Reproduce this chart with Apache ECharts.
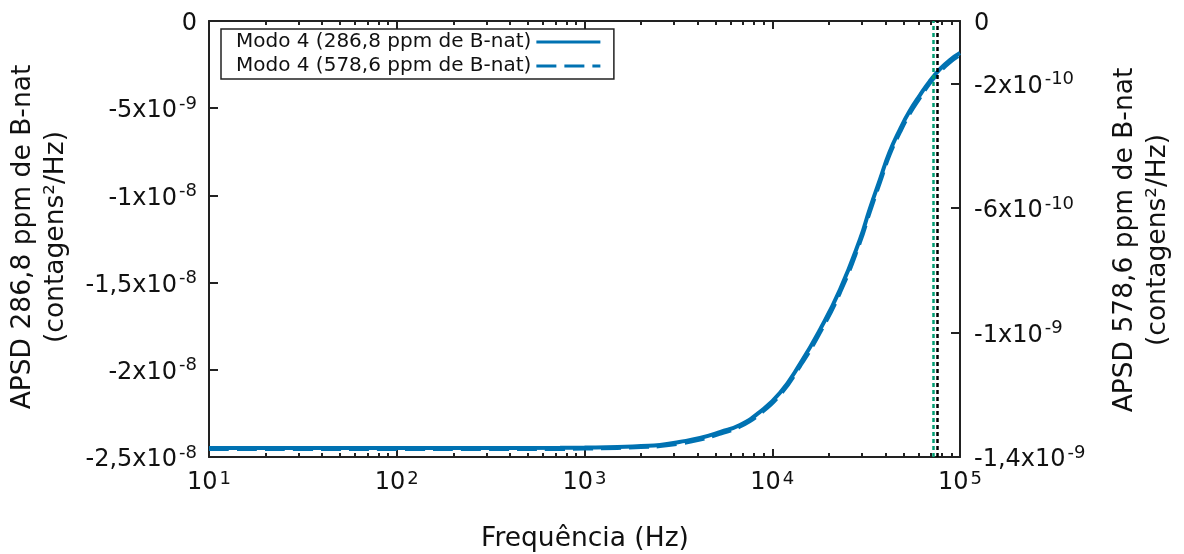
<!DOCTYPE html>
<html><head><meta charset="utf-8">
<script src="https://cdn.jsdelivr.net/npm/echarts@6/dist/echarts.min.js"></script>
<style>html,body{margin:0;padding:0;background:#fff}#c{width:1184px;height:554px}</style>
</head><body><div id="c"></div>
<script>
// ---- data ----
const freqHz = [10, 30, 100, 300, 741, 1000, 1500, 2000, 2524, 3200, 4121, 5300, 6730, 8600, 11000, 14060, 17950, 22950, 29300, 33000, 37470, 42000, 47880, 54000, 61200, 69000, 78200, 88000, 100000];
const apsd286 = [-2.448e-8, -2.448e-8, -2.448e-8, -2.448e-8, -2.447e-8, -2.446e-8, -2.443e-8, -2.437e-8, -2.431e-8, -2.414e-8, -2.391e-8, -2.356e-8, -2.316e-8, -2.241e-8, -2.132e-8, -1.966e-8, -1.770e-8, -1.540e-8, -1.253e-8, -1.080e-8, -9.08e-9, -7.55e-9, -6.21e-9, -5.15e-9, -4.25e-9, -3.45e-9, -2.76e-9, -2.25e-9, -1.84e-9];
const apsd578 = [-1.374e-9, -1.374e-9, -1.374e-9, -1.374e-9, -1.374e-9, -1.373e-9, -1.371e-9, -1.368e-9, -1.365e-9, -1.357e-9, -1.344e-9, -1.325e-9, -1.302e-9, -1.261e-9, -1.200e-9, -1.108e-9, -1.000e-9, -8.72e-10, -7.11e-10, -6.15e-10, -5.18e-10, -4.32e-10, -3.57e-10, -2.97e-10, -2.46e-10, -2.00e-10, -1.62e-10, -1.33e-10, -1.09e-10];
const markerFreqs = [71600, 76000];
const markerColors = ['#009e73', '#000000'];
const seriesNames = ['Modo 4 (286,8 ppm de B-nat)', 'Modo 4 (578,6 ppm de B-nat)'];
const rightTicks = [0, -2e-10, -6e-10, -1e-9, -1.4e-9];
const leftTitle = 'APSD 286,8 ppm de B-nat\n(contagens²/Hz)';
const rightTitle = 'APSD 578,6 ppm de B-nat\n(contagens²/Hz)';
const xTitle = 'Frequência (Hz)';

// minor tick positions (log10 space) for the helper axes
const minorLog = [];
for (let n = 1; n <= 4; n++) for (let k = 2; k <= 9; k++) minorLog.push(Math.log10(k * Math.pow(10, n)));

const FONT = 'DejaVu Sans';
const BLUE = '#0072b2';
const AX = '#222';
const TK = '#222';

function sci(v) {
  if (Math.abs(v) < 1e-20) return '{b|0}';
  const s = Number(v.toPrecision(6)).toExponential();
  const parts = s.split('e');
  return '{b|' + parts[0].replace('.', ',') + 'x10}{s|' + (+parts[1]) + '}';
}
const yRich = {
  b: {fontSize: 24, lineHeight: 32, fontFamily: FONT, color: '#111'},
  s: {fontSize: 18, lineHeight: 18, fontFamily: FONT, color: '#111', verticalAlign: 'top', padding: [0, 0, 0, 2]}
};
const xRich = {
  b: {fontSize: 24, lineHeight: 25, fontFamily: FONT, color: '#111'},
  s: {fontSize: 18, lineHeight: 18, fontFamily: FONT, color: '#111', verticalAlign: 'top', padding: [0, 0, 0, 2]}
};
function tick(len, custom) {
  const t = {show: true, inside: true, length: len, lineStyle: {color: TK, width: 2}};
  if (custom) t.customValues = custom;
  return t;
}
function axLine(show) { return {show: show, onZero: false, lineStyle: {color: AX, width: 2}}; }

const chart = echarts.init(document.getElementById('c'));
chart.setOption({
  animation: false,
  backgroundColor: '#fff',
  grid: {left: 209, right: 224, top: 21, bottom: 97},
  legend: {
    data: seriesNames,
    left: 221, top: 29,
    orient: 'vertical',
    align: 'right',
    itemWidth: 64, itemHeight: 14, itemGap: 4,
    padding: [3, 12, 3, 15],
    borderColor: AX, borderWidth: 1.5,
    selectedMode: false,
    itemStyle: {opacity: 0},
    lineStyle: {width: 3},
    textStyle: {fontSize: 20, fontFamily: FONT, color: '#111'}
  },
  xAxis: [
    {type: 'log', logBase: 10, min: 10, max: 100000, position: 'bottom',
      axisLine: axLine(true), axisTick: tick(8),
      axisLabel: {margin: 13, formatter: v => '{b|10}{s|' + Math.round(Math.log10(v)) + '}', rich: xRich},
      splitLine: {show: false}},
    {type: 'value', min: 1, max: 5, position: 'bottom',
      axisLine: axLine(false), axisTick: tick(4, minorLog),
      axisLabel: {show: false}, splitLine: {show: false}},
    {type: 'log', logBase: 10, min: 10, max: 100000, position: 'top',
      axisLine: axLine(true), axisTick: tick(8),
      axisLabel: {show: false}, splitLine: {show: false}},
    {type: 'value', min: 1, max: 5, position: 'top',
      axisLine: axLine(false), axisTick: tick(4, minorLog),
      axisLabel: {show: false}, splitLine: {show: false}}
  ],
  yAxis: [
    {type: 'value', min: -2.5e-8, max: 0, interval: 5e-9, position: 'left',
      axisLine: axLine(true), axisTick: tick(9),
      axisLabel: {margin: 12, formatter: sci, rich: yRich, padding: [6, 0, 0, 0]},
      splitLine: {show: false}},
    {type: 'value', min: -1.4e-9, max: 0, interval: 2e-10, position: 'right',
      axisLine: axLine(true), axisTick: tick(9, rightTicks),
      axisLabel: {margin: 14, customValues: rightTicks, formatter: sci, rich: yRich, padding: [6, 0, 0, 0]},
      splitLine: {show: false}}
  ],
  series: [
    {type: 'line', xAxisIndex: 0, yAxisIndex: 0, data: [], z: 1, silent: true,
      markLine: {
        symbol: 'none', silent: true, label: {show: false},
        lineStyle: {type: [4, 3], width: 2.5},
        data: markerFreqs.map((f, i) => ({xAxis: f, lineStyle: {color: markerColors[i], type: [4, 3], width: 2.5}}))
      }},
    {name: seriesNames[0], type: 'line', xAxisIndex: 0, yAxisIndex: 0, z: 3,
      data: freqHz.map((f, i) => [f, apsd286[i]]),
      smooth: true, symbol: 'none', showSymbol: false,
      lineStyle: {color: BLUE, width: 4}, itemStyle: {color: BLUE}},
    {name: seriesNames[1], type: 'line', xAxisIndex: 0, yAxisIndex: 1, z: 3,
      data: freqHz.map((f, i) => [f, apsd578[i]]),
      smooth: true, symbol: 'none', showSymbol: false,
      lineStyle: {color: BLUE, width: 4, type: [20, 8]}, itemStyle: {color: BLUE}}
  ],
  graphic: [
    {type: 'text', x: 40, y: 237, rotation: Math.PI / 2,
      style: {text: leftTitle, fontSize: 26.5, fontFamily: FONT, fill: '#111', lineHeight: 33,
        align: 'center', verticalAlign: 'middle', textAlign: 'center', textVerticalAlign: 'middle'}},
    {type: 'text', x: 1142, y: 240, rotation: Math.PI / 2,
      style: {text: rightTitle, fontSize: 26.5, fontFamily: FONT, fill: '#111', lineHeight: 33,
        align: 'center', verticalAlign: 'middle', textAlign: 'center', textVerticalAlign: 'middle'}},
    {type: 'text', x: 585, y: 539,
      style: {text: xTitle, fontSize: 26.5, fontFamily: FONT, fill: '#111',
        align: 'center', verticalAlign: 'middle', textAlign: 'center', textVerticalAlign: 'middle'}}
  ]
});
</script></body></html>
